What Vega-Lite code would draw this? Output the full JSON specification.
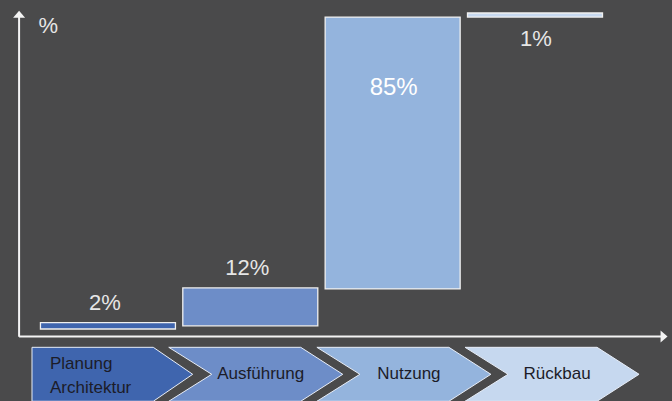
{
  "$schema": "https://vega.github.io/schema/vega-lite/v6.json",
  "width": 672,
  "height": 401,
  "autosize": {"type": "none"},
  "padding": 0,
  "background": "#4a4a4b",
  "config": {
    "view": {"stroke": null},
    "font": "Liberation Sans, Arial, sans-serif",
    "axis": {"disable": true},
    "legend": {"disable": true}
  },
  "data": {
    "values": [
      {"phase": "Planung", "idx": 1, "start": 0, "end": 2, "share": "2%", "step": "Planung\nArchitektur"},
      {"phase": "Ausführung", "idx": 2, "start": 1, "end": 13, "share": "12%", "step": "Ausführung"},
      {"phase": "Nutzung", "idx": 3, "start": 12.7, "end": 98.7, "share": "85%", "step": "Nutzung"},
      {"phase": "Rückbau", "idx": 4, "start": 98.7, "end": 100, "share": "1%", "step": "Rückbau"}
    ]
  },
  "resolve": {"scale": {"x": "independent"}},
  "layer": [
    {
      "layer": [
        {
          "mark": {"type": "bar", "width": 135, "stroke": "#f0f0f0", "strokeWidth": 1.3},
          "encoding": {
            "x": {"field": "idx", "type": "quantitative", "scale": {"domain": [0.2768, 4.9273], "nice": false, "zero": false}},
            "y": {"field": "start", "type": "quantitative", "scale": {"domain": [-22.78, 104.11], "nice": false, "zero": false}},
            "y2": {"field": "end"},
            "fill": {"field": "phase", "type": "nominal", "scale": {"domain": ["Planung", "Ausführung", "Nutzung", "Rückbau"], "range": ["#3f65ae", "#6d8dc8", "#94b4dd", "#c6d8ef"]}}
          }
        },
        {
          "transform": [{"filter": "datum.idx <= 2"}],
          "mark": {"type": "text", "fontSize": 22, "color": "#e6e6e6", "baseline": "alphabetic", "align": "center", "dy": -13, "dx": -3},
          "encoding": {
            "x": {"field": "idx", "type": "quantitative", "scale": {"domain": [0.2768, 4.9273], "nice": false, "zero": false}},
            "y": {"field": "end", "type": "quantitative", "scale": {"domain": [-22.78, 104.11], "nice": false, "zero": false}},
            "text": {"field": "share"}
          }
        },
        {
          "transform": [{"filter": "datum.idx == 3"}],
          "mark": {"type": "text", "fontSize": 24, "color": "#ffffff", "baseline": "alphabetic", "align": "center", "dy": 78, "dx": 1},
          "encoding": {
            "x": {"field": "idx", "type": "quantitative", "scale": {"domain": [0.2768, 4.9273], "nice": false, "zero": false}},
            "y": {"field": "end", "type": "quantitative", "scale": {"domain": [-22.78, 104.11], "nice": false, "zero": false}},
            "text": {"field": "share"}
          }
        },
        {
          "transform": [{"filter": "datum.idx == 4"}],
          "mark": {"type": "text", "fontSize": 22, "color": "#e6e6e6", "baseline": "alphabetic", "align": "center", "dy": 29, "dx": 1},
          "encoding": {
            "x": {"field": "idx", "type": "quantitative", "scale": {"domain": [0.2768, 4.9273], "nice": false, "zero": false}},
            "y": {"field": "start", "type": "quantitative", "scale": {"domain": [-22.78, 104.11], "nice": false, "zero": false}},
            "text": {"field": "share"}
          }
        },
        {
          "data": {"values": [{"unit": "%"}]},
          "layer": [
            {
              "mark": {"type": "rule", "color": "#f4f4f4", "strokeWidth": 2},
              "encoding": {
                "x": {"datum": 0.3758, "type": "quantitative", "scale": {"domain": [0.2768, 4.9273], "nice": false, "zero": false}},
                "y": {"datum": -2.44, "type": "quantitative", "scale": {"domain": [-22.78, 104.11], "nice": false, "zero": false}},
                "y2": {"datum": 99.3}
              }
            },
            {
              "mark": {"type": "rule", "color": "#f4f4f4", "strokeWidth": 1.8},
              "encoding": {
                "x": {"datum": 0.3758, "type": "quantitative", "scale": {"domain": [0.2768, 4.9273], "nice": false, "zero": false}},
                "x2": {"datum": 4.893},
                "y": {"datum": -2.37, "type": "quantitative", "scale": {"domain": [-22.78, 104.11], "nice": false, "zero": false}}
              }
            },
            {
              "mark": {"type": "point", "filled": true, "opacity": 1, "color": "#f4f4f4", "size": 144, "shape": "M0,-0.58L1,0.58L-1,0.58Z"},
              "encoding": {
                "x": {"datum": 0.3758, "type": "quantitative", "scale": {"domain": [0.2768, 4.9273], "nice": false, "zero": false}},
                "y": {"datum": 99.62, "type": "quantitative", "scale": {"domain": [-22.78, 104.11], "nice": false, "zero": false}}
              }
            },
            {
              "mark": {"type": "point", "filled": true, "opacity": 1, "color": "#f4f4f4", "size": 144, "shape": "M0.58,0L-0.58,-1L-0.58,1Z"},
              "encoding": {
                "x": {"datum": 4.9066, "type": "quantitative", "scale": {"domain": [0.2768, 4.9273], "nice": false, "zero": false}},
                "y": {"datum": -2.37, "type": "quantitative", "scale": {"domain": [-22.78, 104.11], "nice": false, "zero": false}}
              }
            },
            {
              "mark": {"type": "text", "fontSize": 22, "color": "#e6e6e6", "baseline": "alphabetic", "align": "center"},
              "encoding": {
                "x": {"datum": 0.5813, "type": "quantitative", "scale": {"domain": [0.2768, 4.9273], "nice": false, "zero": false}},
                "y": {"datum": 93.67, "type": "quantitative", "scale": {"domain": [-22.78, 104.11], "nice": false, "zero": false}},
                "text": {"field": "unit"}
              }
            }
          ]
        }
      ]
    },
    {
      "layer": [
        {
          "transform": [{"filter": "datum.idx == 1"}],
          "mark": {"type": "point", "filled": true, "opacity": 1, "size": 30276, "stroke": "#e8eef8", "strokeWidth": 1, "shape": "M-0.869,-0.31L0.525,-0.31L0.978,0L0.525,0.31L-0.869,0.31Z"},
          "encoding": {
            "x": {"field": "idx", "type": "quantitative", "scale": {"domain": [0.2737, 4.8096], "nice": false, "zero": false}},
            "y": {"datum": -14.33, "type": "quantitative", "scale": {"domain": [-22.78, 104.11], "nice": false, "zero": false}},
            "fill": {"field": "phase", "type": "nominal", "scale": {"domain": ["Planung", "Ausführung", "Nutzung", "Rückbau"], "range": ["#3f65ae", "#6d8dc8", "#94b4dd", "#c6d8ef"]}}
          }
        },
        {
          "transform": [{"filter": "datum.idx > 1"}],
          "mark": {"type": "point", "filled": true, "opacity": 1, "size": 30276, "stroke": "#e8eef8", "strokeWidth": 1, "shape": "M-1,-0.31L0.517,-0.31L1,0L0.517,0.31L-1,0.31L-0.506,0Z"},
          "encoding": {
            "x": {"field": "idx", "type": "quantitative", "scale": {"domain": [0.2737, 4.8096], "nice": false, "zero": false}},
            "y": {"datum": -14.33, "type": "quantitative", "scale": {"domain": [-22.78, 104.11], "nice": false, "zero": false}},
            "fill": {"field": "phase", "type": "nominal", "scale": {"domain": ["Planung", "Ausführung", "Nutzung", "Rückbau"], "range": ["#3f65ae", "#6d8dc8", "#94b4dd", "#c6d8ef"]}}
          }
        },
        {
          "transform": [{"filter": "datum.idx == 1"}],
          "mark": {"type": "text", "fontSize": 17, "color": "#1c1c28", "baseline": "middle", "align": "left", "lineBreak": "\n", "lineHeight": 24, "dx": -57.6, "dy": -10.4},
          "encoding": {
            "x": {"field": "idx", "type": "quantitative", "scale": {"domain": [0.2737, 4.8096], "nice": false, "zero": false}},
            "y": {"datum": -14.33, "type": "quantitative", "scale": {"domain": [-22.78, 104.11], "nice": false, "zero": false}},
            "text": {"field": "step"}
          }
        },
        {
          "transform": [{"filter": "datum.idx > 1"}],
          "mark": {"type": "text", "fontSize": 17, "color": "#1c1c28", "baseline": "middle", "align": "center", "dx": 5},
          "encoding": {
            "x": {"field": "idx", "type": "quantitative", "scale": {"domain": [0.2737, 4.8096], "nice": false, "zero": false}},
            "y": {"datum": -14.33, "type": "quantitative", "scale": {"domain": [-22.78, 104.11], "nice": false, "zero": false}},
            "text": {"field": "step"}
          }
        }
      ]
    }
  ]
}
